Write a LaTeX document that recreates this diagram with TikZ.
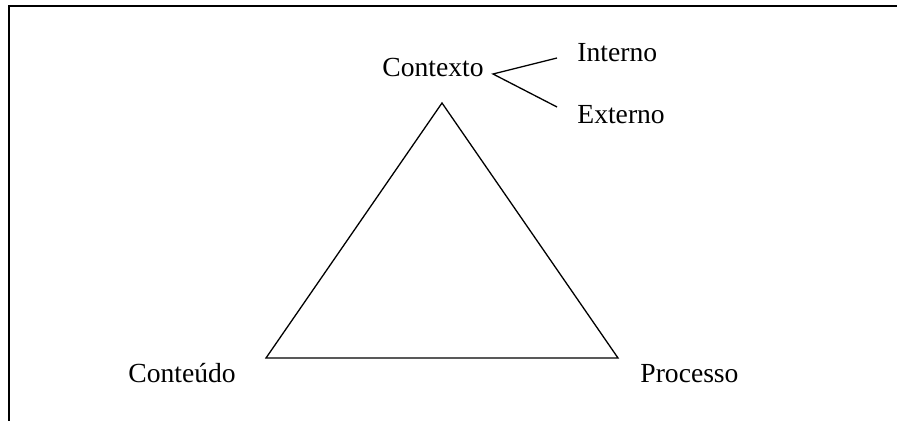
\documentclass[tikz,border=0pt]{standalone}
\usepackage{fontspec}
\setmainfont{Liberation Serif}
\usetikzlibrary{calc}

\tikzset{
 lbl/.style={anchor=base west, inner sep=0, font=\fontsize{13.8}{16}\selectfont},
 side/.style={black, line width=.65pt},
}

\begin{document}
\begin{tikzpicture} [x=.5pt, y=-.5pt]
\useasboundingbox (0,0) rectangle (897,421);
\draw[black, line width=1pt] (9,421)--(9,6)--(897,6);
\coordinate(T) at (442,103);
\coordinate(L) at (266,358);
\coordinate(R) at (618,358);
\draw[side] (T)--(L)--(R)--cycle;
\node[lbl] (ctx) at (382,77) {Contexto};
\node[lbl] (int) at (577,62) {Interno};
\node[lbl] (ext) at (577,124) {Externo};
\node[lbl] (cont) at (128,382) {Conteúdo};
\node[lbl] (proc) at (640,382) {Processo};
\coordinate(fork) at (493,74);
\coordinate(intend) at (557,58);
\coordinate(extend) at (557,107);
\draw[side] (intend)--(fork)--(extend);
\end{tikzpicture}
\end{document}
